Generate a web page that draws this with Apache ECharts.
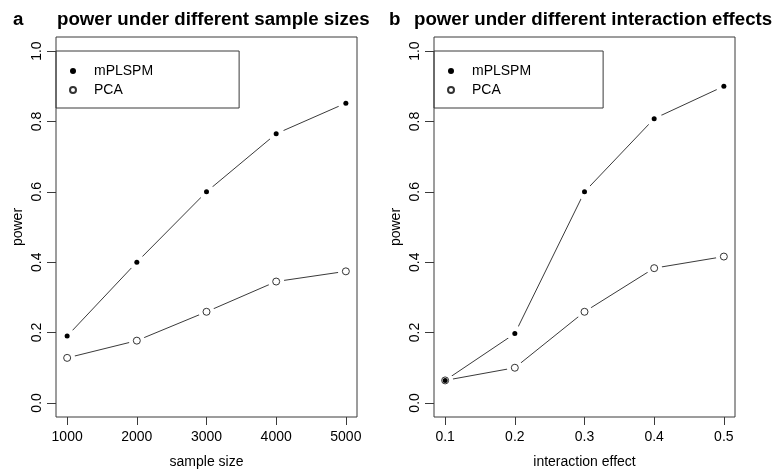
<!DOCTYPE html>
<html>
<head>
<meta charset="utf-8">
<script src="https://cdn.jsdelivr.net/npm/echarts@6/dist/echarts.min.js"></script>
<style>html,body{margin:0;padding:0;background:#fff}#c{width:772px;height:470px}</style>
</head>
<body>
<div id="c"></div>
<script>
// ---- data ----
var sampleSizes = [1000, 2000, 3000, 4000, 5000];
var powerMplspmA = [0.19, 0.40, 0.60, 0.765, 0.852];
var powerPcaA = [0.128, 0.177, 0.259, 0.345, 0.374];

var effects = [0.1, 0.2, 0.3, 0.4, 0.5];
var powerMplspmB = [0.064, 0.197, 0.60, 0.808, 0.90];
var powerPcaB = [0.064, 0.10, 0.259, 0.383, 0.416];

var yTicks = [0, 0.2, 0.4, 0.6, 0.8, 1.0];
var seriesNames = ['mPLSPM', 'PCA'];

function pairs(xs, ys) { return xs.map(function (x, i) { return [x, ys[i]]; }); }

var FONT = '"Liberation Sans", Arial, sans-serif';
var LINE = '#3a3a3a';

function xAxisCfg(idx, min, max, ticks, name, fmt) {
  return {
    type: 'value', gridIndex: idx, min: min, max: max, position: 'bottom',
    name: name, nameLocation: 'middle', nameGap: 38,
    nameTextStyle: { fontFamily: FONT, fontSize: 14, color: '#000' },
    axisLine: { show: false, onZero: false },
    axisTick: { show: true, inside: false, length: 8, customValues: ticks, lineStyle: { color: LINE, width: 1 } },
    axisLabel: { customValues: ticks, margin: 13, fontFamily: FONT, fontSize: 14, color: '#000', formatter: fmt },
    splitLine: { show: false }
  };
}
function yAxisCfg(idx) {
  return {
    type: 'value', gridIndex: idx, min: -0.04, max: 1.04, position: 'left',
    name: 'power', nameLocation: 'middle', nameGap: 31, nameRotate: 90,
    nameTextStyle: { fontFamily: FONT, fontSize: 14, color: '#000' },
    axisLine: { show: false, onZero: false },
    axisTick: { show: true, inside: false, length: 9, customValues: yTicks, lineStyle: { color: LINE, width: 1 } },
    axisLabel: { customValues: yTicks, rotate: 90, margin: 12, fontFamily: FONT, fontSize: 14, color: '#000',
      formatter: function (v) { return Number(v).toFixed(1); } },
    splitLine: { show: false }
  };
}
function lineSeries(idx, name, xs, ys) {
  return {
    type: 'line', name: name + ' line', xAxisIndex: idx, yAxisIndex: idx,
    data: pairs(xs, ys), showSymbol: false, symbol: 'none',
    lineStyle: { color: LINE, width: 1 }, silent: true, animation: false, z: 2
  };
}
function gapSeries(idx, name, xs, ys) {
  return {
    type: 'scatter', name: name + ' gap', xAxisIndex: idx, yAxisIndex: idx,
    data: pairs(xs, ys), symbol: 'circle', symbolSize: 16,
    itemStyle: { color: '#fff', borderWidth: 0, opacity: 1 },
    silent: true, animation: false, z: 3
  };
}
function markerSeries(idx, name, xs, ys, filled) {
  return {
    type: 'scatter', name: name, xAxisIndex: idx, yAxisIndex: idx,
    data: pairs(xs, ys), symbol: 'circle', symbolSize: filled ? 5 : 7,
    itemStyle: filled ? { color: '#000', borderWidth: 0, opacity: 1 } : { color: '#fff', borderColor: '#333', borderWidth: 1, opacity: 1 },
    animation: false, z: filled ? 5 : 4
  };
}
function legendCfg(left, rightPad) {
  return {
    orient: 'vertical', left: left, top: 51,
    data: seriesNames,
    itemWidth: 6, itemHeight: 6, itemGap: 3,
    padding: [12, rightPad, 10, 13],
    borderColor: LINE, borderWidth: 1, borderRadius: 0,
    textStyle: { fontFamily: FONT, fontSize: 14, color: '#000', lineHeight: 16, padding: [0, 0, 0, 13] },
    selectedMode: false
  };
}

var fmtInt = function (v) { return String(v); };
var fmt1 = function (v) { return Number(v).toFixed(1); };
var TS = { fontFamily: FONT, fontSize: 18.7, fontWeight: 'bold', color: '#000' };

var option = {
  backgroundColor: '#fff',
  animation: false,
  title: [
    { text: 'a', left: 13, top: 10, padding: 0, textStyle: TS },
    { text: 'power under different sample sizes', left: 57, top: 10, padding: 0, textStyle: TS },
    { text: 'b', left: 389, top: 10, padding: 0, textStyle: TS },
    { text: 'power under different interaction effects', left: 414, top: 10, padding: 0, textStyle: TS }
  ],
  legend: [legendCfg(56, 86), legendCfg(434, 72)],
  grid: [
    { left: 56, right: 415, top: 37, bottom: 53, outerBoundsMode: 'none', containLabel: false, show: true, borderColor: LINE, borderWidth: 1, backgroundColor: 'transparent' },
    { left: 434, right: 37, top: 37, bottom: 53, outerBoundsMode: 'none', containLabel: false, show: true, borderColor: LINE, borderWidth: 1, backgroundColor: 'transparent' }
  ],
  xAxis: [
    xAxisCfg(0, 840, 5160, sampleSizes, 'sample size', fmtInt),
    xAxisCfg(1, 0.084, 0.516, effects, 'interaction effect', fmt1)
  ],
  yAxis: [yAxisCfg(0), yAxisCfg(1)],
  series: [
    lineSeries(0, 'mPLSPM', sampleSizes, powerMplspmA),
    lineSeries(0, 'PCA', sampleSizes, powerPcaA),
    gapSeries(0, 'mPLSPM', sampleSizes, powerMplspmA),
    gapSeries(0, 'PCA', sampleSizes, powerPcaA),
    markerSeries(0, 'PCA', sampleSizes, powerPcaA, false),
    markerSeries(0, 'mPLSPM', sampleSizes, powerMplspmA, true),
    lineSeries(1, 'mPLSPM', effects, powerMplspmB),
    lineSeries(1, 'PCA', effects, powerPcaB),
    gapSeries(1, 'mPLSPM', effects, powerMplspmB),
    gapSeries(1, 'PCA', effects, powerPcaB),
    markerSeries(1, 'PCA', effects, powerPcaB, false),
    markerSeries(1, 'mPLSPM', effects, powerMplspmB, true)
  ]
};
var chart = echarts.init(document.getElementById('c'), null, { renderer: 'canvas' });
chart.setOption(option);
</script>
</body>
</html>
